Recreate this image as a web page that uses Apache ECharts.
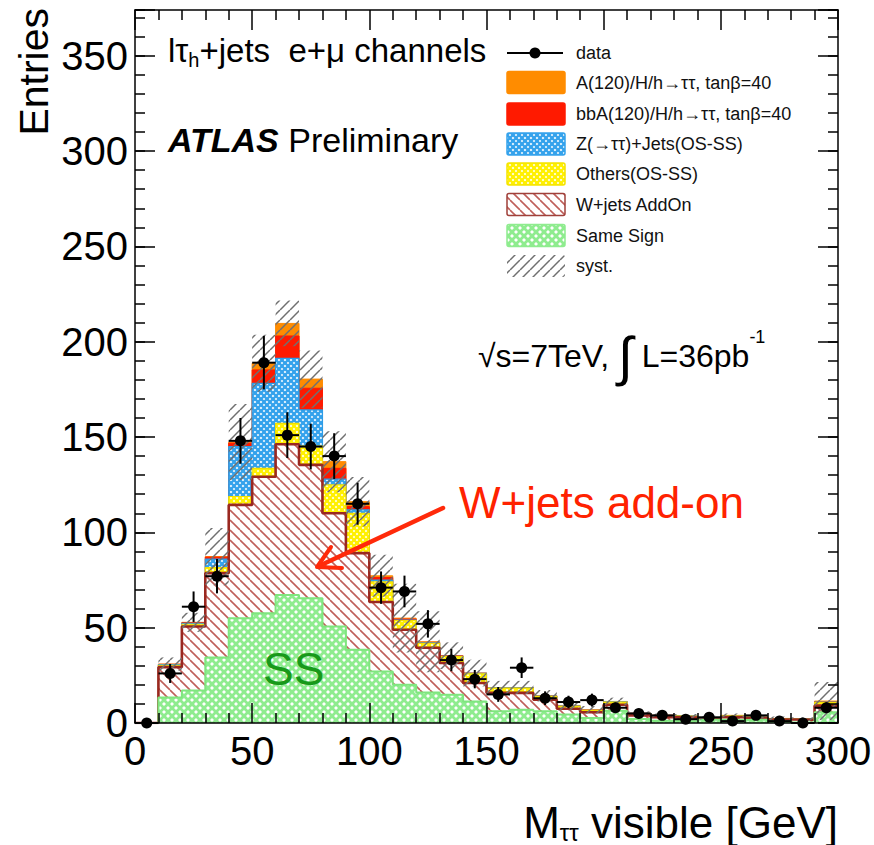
<!DOCTYPE html>
<html>
<head>
<meta charset="utf-8">
<title>M_tautau visible</title>
<script src="https://cdn.jsdelivr.net/npm/echarts@6.0.0/dist/echarts.min.js"></script>
<style>
html,body{margin:0;padding:0;background:#ffffff;}
#chart{width:874px;height:845px;}
</style>
</head>
<body>
<div id="chart"></div>
<script>
// ---------------- data ----------------
const binEdges = [0,10,20,30,40,50,60,70,80,90,100,110,120,130,140,150,160,170,180,190,200,210,220,230,240,250,260,270,280,290,300];
const sameSign   = [0,13.4,17.1,34.4,55,57.6,67.2,65.5,50.6,38.4,27,20.1,16,14.8,11.3,6.1,6.9,6.1,4.4,2.6,6.4,2.1,1.2,0.9,1.7,1.6,1.7,0.9,0.3,5.6];
const wjetsAddOn = [0,15.9,33.5,44.2,59.4,71.6,79,69.9,59.4,50.7,36.5,28.8,23.5,16.7,9.7,9.7,8.9,6.1,3.1,3,3.2,1.9,1.9,1.9,0.6,1.5,0.9,0.9,1.4,3.5];
const othersOSSS = [0,1,1.2,2.9,4.4,4.4,11,9.9,14.9,20.9,10.5,4.8,2.3,3.3,4.8,2.5,2.5,1.8,1.2,1,1.4,0.9,0.7,0.7,0.3,0.7,0.5,0.4,0.2,1.7];
const zTauTau    = [0,0.3,0.5,4.5,26.2,44.6,34.1,18.9,3,1.8,1,0.3,0.2,0.2,0.2,0.1,0.1,0.1,0.1,0.1,0.1,0.1,0.1,0.1,0.1,0.1,0.1,0.1,0.1,0.1];
const bbAHiggs   = [0,0.2,0.3,1,1.8,7,11.7,11.4,5.7,1.7,1.3,0.5,0.3,0.2,0.1,0.1,0.1,0.1,0.1,0.1,0.1,0.1,0.1,0,0,0,0,0,0,0.3];
const aHiggs     = [0,0.1,0.2,0.3,0.5,3.5,6.6,4.8,3.5,2.6,0.9,0.5,0.3,0.1,0.1,0.1,0.1,0.1,0.1,0.1,0.1,0,0,0.1,0.1,0.1,0.1,0.1,0,0.3];
const systErr    = [0,3.5,5,15,20,15,12,15,16,13,11,18,16,7,7,3.5,3.5,3,2.5,2,2,1,1,1,1,1,1,1,1,10];
const dataCounts = [0,26,61,77,148,189,151,145,140,115,71,69,52,33,23,15,29,13,11,12,8,5,4,2,3,1,4,1,0,8];
const dataErr    = [0,5,8,9,12,14,12,12,12,11,8.5,8.3,7.2,5.8,4.8,3.9,5.4,3.6,3.3,3.4,2.8,2.2,2,1.4,1.7,1,2,1,0,2.8];
const legendLabels = ['data','A(120)/H/h\u2192\u03c4\u03c4, tan\u03b2=40','bbA(120)/H/h\u2192\u03c4\u03c4, tan\u03b2=40','Z(\u2192\u03c4\u03c4)+Jets(OS-SS)','Others(OS-SS)','W+jets AddOn','Same Sign','syst.'];

// ---------------- helpers ----------------
const FONT = "'Liberation Sans', Arial, Helvetica, sans-serif";
const NB = '\u00a0';

function makePattern(size, bg, color, lw, dirs) {
  const c = document.createElement('canvas');
  c.width = size; c.height = size;
  const g = c.getContext('2d');
  if (bg) { g.fillStyle = bg; g.fillRect(0, 0, size, size); }
  g.strokeStyle = color; g.lineWidth = lw;
  dirs.forEach(function (d) {
    for (let k = -1; k <= 1; k++) {
      g.beginPath();
      if (d === '\\') { g.moveTo(k * size, 0); g.lineTo(k * size + size, size); }
      else { g.moveTo(k * size, size); g.lineTo(k * size + size, 0); }
      g.stroke();
    }
  });
  return { image: c, repeat: 'repeat', imageWidth: size, imageHeight: size };
}

const patSS   = makePattern(8, '#ffffff', '#8fec8f', 2.8, ['\\', '/']);
const patW    = makePattern(10, '#ffffff', '#bf5f5a', 1.6, ['\\']);
const patY    = makePattern(6, '#ffffff', '#fff000', 2.4, ['\\', '/']);
const patZ    = makePattern(6, '#ffffff', '#34a2ec', 2.3, ['\\', '/']);
const patSyst = makePattern(10, null, '#707070', 1.5, ['/']);

function stepData(vals) {
  const d = vals.map(function (v, i) { return [binEdges[i], v]; });
  d.push([binEdges[vals.length], vals[vals.length - 1]]);
  return d;
}

const comps = [
  { name: 'Same Sign', vals: sameSign, line: '#7fe67f', lw: 2, fill: patSS, z: 9 },
  { name: 'W+jets AddOn', vals: wjetsAddOn, line: '#9a2820', lw: 2.6, fill: patW, z: 8 },
  { name: 'Others(OS-SS)', vals: othersOSSS, line: '#f2df00', lw: 1.2, fill: patY, z: 7 },
  { name: 'Z', vals: zTauTau, line: '#2d9ce6', lw: 1.2, fill: patZ, z: 6 },
  { name: 'bbA', vals: bbAHiggs, line: '#ff1a00', lw: 1, fill: '#ff1a00', z: 5 },
  { name: 'A', vals: aHiggs, line: '#ff8a00', lw: 1, fill: '#ff8c00', z: 4 }
];

// cumulative stack built from the component arrays
const series = [];
let running = sameSign.map(function () { return 0; });
comps.forEach(function (c) {
  running = running.map(function (r, i) { return r + c.vals[i]; });
  series.push({
    type: 'line', name: c.name, step: 'end', symbol: 'none',
    data: stepData(running), z: c.z, silent: true, animation: false,
    lineStyle: { color: c.line, width: c.lw },
    areaStyle: { color: c.fill, opacity: 1, origin: 'start' }
  });
});
const totals = running;

const systData = [];
for (let i = 0; i < totals.length; i++) {
  if (systErr[i] > 0) systData.push([binEdges[i], binEdges[i + 1], Math.max(0, totals[i] - systErr[i]), totals[i] + systErr[i]]);
}
series.push({
  type: 'custom', name: 'syst.', z: 10, silent: true, animation: false,
  encode: { x: [0, 1], y: [2, 3] },
  data: systData,
  renderItem: function (params, api) {
    const p0 = api.coord([api.value(0), api.value(3)]);
    const p1 = api.coord([api.value(1), api.value(2)]);
    return { type: 'rect', shape: { x: p0[0], y: p0[1], width: p1[0] - p0[0], height: p1[1] - p0[1] }, style: { fill: patSyst } };
  }
});

const dataPts = dataCounts.map(function (v, i) {
  return [(binEdges[i] + binEdges[i + 1]) / 2, v, dataErr[i], (binEdges[i + 1] - binEdges[i]) / 2];
});
series.push({
  type: 'custom', name: 'data', z: 12, silent: true, animation: false,
  encode: { x: 0, y: 1 },
  data: dataPts,
  renderItem: function (params, api) {
    const x = api.value(0), y = api.value(1), e = api.value(2), h = api.value(3);
    const c = api.coord([x, y]);
    const t = api.coord([x, y + e]);
    const b = api.coord([x, Math.max(0, y - e)]);
    const l = api.coord([x - h, y]);
    const r = api.coord([x + h, y]);
    return {
      type: 'group', children: [
        { type: 'line', shape: { x1: t[0], y1: t[1], x2: b[0], y2: b[1] }, style: { stroke: '#000', lineWidth: 2 } },
        { type: 'line', shape: { x1: l[0], y1: l[1], x2: r[0], y2: r[1] }, style: { stroke: '#000', lineWidth: 2 } },
        { type: 'circle', shape: { cx: c[0], cy: c[1], r: 5.5 }, style: { fill: '#000' } }
      ]
    };
  }
});

// ---------------- axes ----------------
const tickLine = { color: '#000', width: 1.5 };
function xAx(pos, major) {
  return {
    type: 'value', min: 0, max: 300, interval: 50, position: pos, z: 20,
    axisLine: { show: true, onZero: false, lineStyle: tickLine },
    axisTick: { show: true, inside: true, length: 20, lineStyle: tickLine },
    minorTick: { show: true, splitNumber: 5, length: 10, lineStyle: tickLine },
    splitLine: { show: false }, minorSplitLine: { show: false },
    axisLabel: { show: major, fontSize: 40, color: '#000', fontFamily: FONT, margin: 8 }
  };
}
function yAx(pos, major) {
  return {
    type: 'value', min: 0, max: 374, interval: major ? 50 : 10, position: pos, z: 20,
    axisLine: { show: major, onZero: false, lineStyle: tickLine },
    axisTick: { show: true, inside: true, length: major ? 20 : 10, lineStyle: tickLine },
    splitLine: { show: false },
    axisLabel: {
      show: major && pos === 'left', fontSize: 40, color: '#000', fontFamily: FONT, margin: 7,
      formatter: function (v) { return v % 50 === 0 ? String(v) : ''; }
    }
  };
}

// ---------------- legend & annotations (graphic) ----------------
const legendFills = [null,
  { fill: '#ff8c00', stroke: '#ff8c00' },
  { fill: '#ff1a00', stroke: '#ff1a00' },
  { fill: patZ, stroke: '#34a2ec' },
  { fill: patY, stroke: '#f5e400' },
  { fill: patW, stroke: '#a0403a' },
  { fill: patSS, stroke: '#8fec8f' },
  { fill: patSyst, stroke: null }];
const legendY = [53, 82.5, 114, 144, 174, 204.5, 235.5, 266];
const graphics = [];
legendLabels.forEach(function (lab, i) {
  const cy = legendY[i];
  if (i === 0) {
    graphics.push({ type: 'line', shape: { x1: 507, y1: cy, x2: 563, y2: cy }, style: { stroke: '#000', lineWidth: 2 }, z: 50 });
    graphics.push({ type: 'circle', shape: { cx: 535, cy: cy, r: 5.5 }, style: { fill: '#000' }, z: 50 });
  } else {
    const f = legendFills[i];
    graphics.push({ type: 'rect', shape: { x: 507, y: cy - 11, width: 58, height: 22, r: 2 },
      style: { fill: f.fill, stroke: f.stroke, lineWidth: f.stroke ? 1.5 : 0 }, z: 50 });
  }
  graphics.push({ type: 'text', x: 576, y: cy, z: 50,
    style: { text: lab, font: '18px ' + FONT, fill: '#111', align: 'left', verticalAlign: 'middle' } });
});

// top-left channel label
graphics.push({ type: 'text', x: 168, y: 30, z: 50,
  style: {
    text: '{a|l\u03c4}{b|h}{a|+jets' + NB + NB + 'e+\u03bc' + NB + 'channels}', align: 'left', verticalAlign: 'top',
    rich: {
      a: { font: '33px ' + FONT, fill: '#000', lineHeight: 40 },
      b: { font: '20px ' + FONT, fill: '#000', lineHeight: 14, verticalAlign: 'bottom' }
    }
  } });
// ATLAS Preliminary
graphics.push({ type: 'text', x: 168, y: 140, z: 50,
  style: {
    text: '{b|ATLAS}{n|' + NB + 'Preliminary}', align: 'left', verticalAlign: 'middle',
    rich: {
      b: { font: 'italic bold 34px ' + FONT, fill: '#000' },
      n: { font: '34px ' + FONT, fill: '#000' }
    }
  } });
// sqrt(s), lumi
graphics.push({ type: 'text', x: 478, y: 328, z: 50,
  style: {
    text: '{m|\u221as=7TeV,' + NB + '}{i|\u222b}{m|' + NB + 'L=36pb}{s|-1}', align: 'left', verticalAlign: 'top',
    rich: {
      m: { font: '32px ' + FONT, fill: '#000', lineHeight: 56 },
      i: { font: '54px ' + FONT, fill: '#000', lineHeight: 56 },
      s: { font: '18px ' + FONT, fill: '#000', lineHeight: 44, verticalAlign: 'top' }
    }
  } });
// W+jets add-on annotation
graphics.push({ type: 'text', x: 459, y: 502, z: 50,
  style: { text: 'W+jets add-on', font: '44px ' + FONT, fill: '#ff2200', align: 'left', verticalAlign: 'middle' } });
graphics.push({ type: 'polyline', z: 50,
  shape: { points: [[443, 508], [319, 566]] }, style: { stroke: '#ff2a0a', lineWidth: 4.5, lineCap: 'round' } });
graphics.push({ type: 'polyline', z: 50,
  shape: { points: [[342, 568], [317, 567], [331, 547]] }, style: { stroke: '#ff2a0a', lineWidth: 4, lineCap: 'round', lineJoin: 'round', fill: null } });
// SS annotation
graphics.push({ type: 'text', x: 263, y: 669, z: 50,
  style: { text: 'SS', font: '46px ' + FONT, fill: '#18991a', align: 'left', verticalAlign: 'middle' } });
// axis titles
graphics.push({ type: 'text', x: 34, y: 8, rotation: Math.PI / 2, z: 50,
  style: { text: 'Entries', font: '41px ' + FONT, fill: '#000', align: 'right', verticalAlign: 'middle' } });
graphics.push({ type: 'text', x: 838, y: 800, z: 50,
  style: {
    text: '{a|M}{b|\u03c4\u03c4}{a|' + NB + 'visible' + NB + '[GeV]}', align: 'right', verticalAlign: 'top',
    rich: {
      a: { font: '44px ' + FONT, fill: '#000', lineHeight: 44 },
      b: { font: '24px ' + FONT, fill: '#000', lineHeight: 14, verticalAlign: 'bottom' }
    }
  } });

const chart = echarts.init(document.getElementById('chart'), null, { renderer: 'svg', width: 874, height: 845 });
chart.setOption({
  backgroundColor: '#ffffff',
  animation: false,
  grid: { left: 135, right: 36, top: 10, bottom: 122, containLabel: false, outerBoundsMode: 'none' },
  xAxis: [xAx('bottom', true), xAx('top', false)],
  yAxis: [yAx('left', true), yAx('left', false), yAx('right', true), yAx('right', false)],
  series: series,
  graphic: graphics
});
</script>
</body>
</html>
